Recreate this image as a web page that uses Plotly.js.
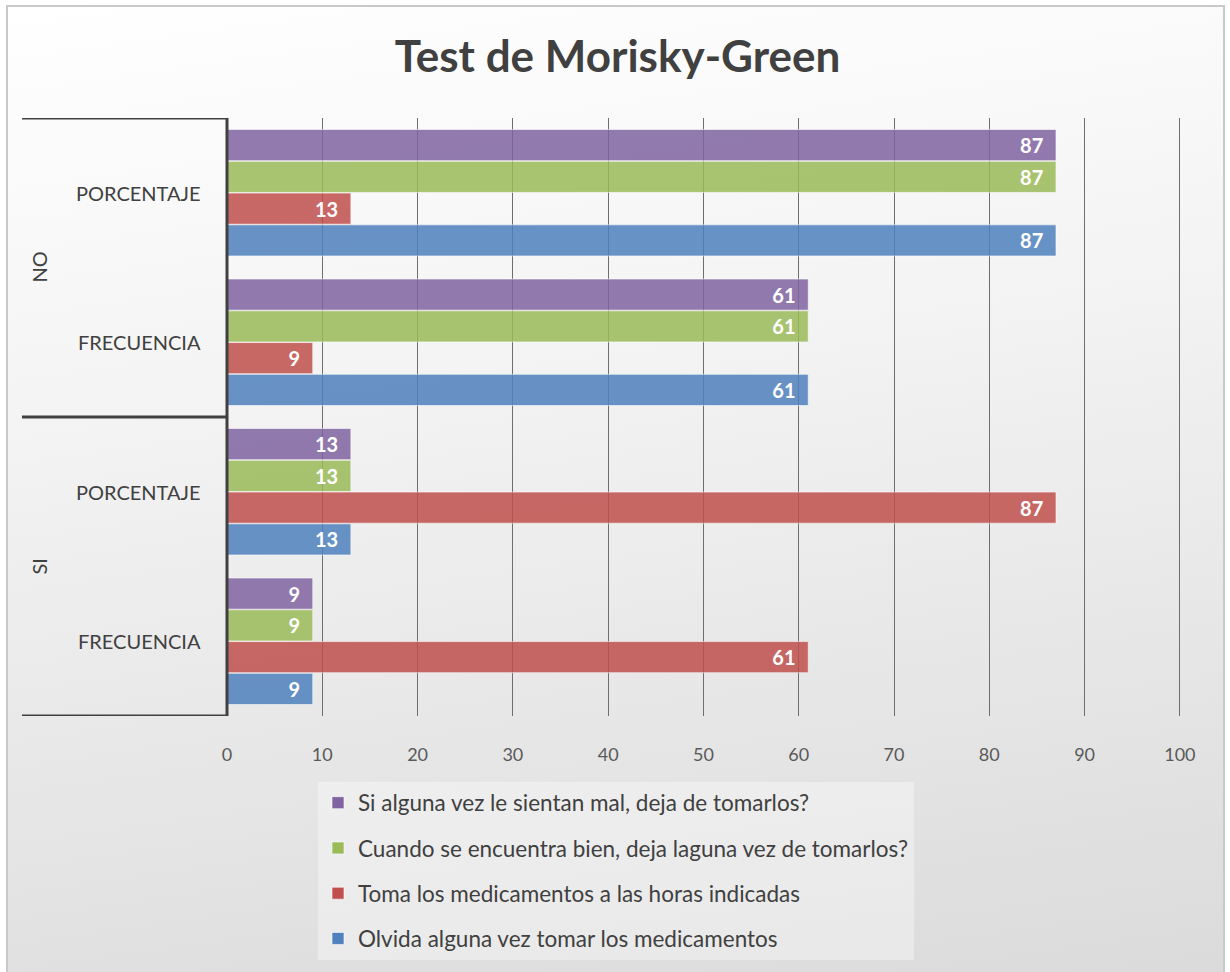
<!DOCTYPE html>
<html>
<head>
<meta charset="utf-8">
<script src="https://cdn.plot.ly/plotly-3.0.1.min.js"></script>
<style>
  html, body { margin: 0; padding: 0; width: 1230px; height: 972px; overflow: hidden; background: #ffffff; }
  #frame { position: absolute; left: 6px; top: 5px; width: 1219px; height: 990px;
           border: 2px solid #c9c9c9; box-sizing: border-box;
           background: linear-gradient(172deg, #ffffff 0%, #f4f4f4 35%, #e4e4e4 75%, #dadada 100%); }
  #chart { position: absolute; left: 0; top: 0; width: 1230px; height: 972px; }
</style>
</head>
<body>
<div id="frame"></div>
<div id="chart"></div>
<script>
// ---- data ----
const grupos = ['SI', 'SI', 'NO', 'NO'];
const subcategorias = ['FRECUENCIA', 'PORCENTAJE', 'FRECUENCIA', 'PORCENTAJE'];
const series = [
  'Olvida alguna vez tomar los medicamentos',
  'Toma los medicamentos a las horas indicadas',
  'Cuando se encuentra bien, deja laguna vez de tomarlos?',
  'Si alguna vez le sientan mal, deja de tomarlos?'
];
const olvida   = [9, 13, 61, 87];
const toma     = [61, 87, 9, 13];
const cuando   = [9, 13, 61, 87];
const sientan  = [9, 13, 61, 87];
const xTicks = [0, 10, 20, 30, 40, 50, 60, 70, 80, 90, 100];

const valores = [olvida, toma, cuando, sientan];
const colores = ['#4F81BD', '#C0504D', '#9BBB59', '#8064A2'];
const categorias = grupos.map((g, i) => g + ' ' + subcategorias[i]);
const FONT = 'Lato, "Open Sans", sans-serif';

const traces = series.map((name, k) => ({
  type: 'bar',
  orientation: 'h',
  name: name,
  legendgroup: 'g' + k,
  legendrank: 100 - k,
  y: categorias,
  x: valores[k],
  text: valores[k].map(v => String(v) + '\u00a0\u00a0'),
  textposition: 'inside',
  insidetextanchor: 'end',
  textfont: { family: FONT, size: 20, color: '#ffffff', weight: 'bold' },
  marker: { color: colores[k], opacity: 0.85, line: { color: 'rgba(255,255,255,0.6)', width: 1 } },
  hoverinfo: 'x+name'
}));

// plot geometry in px
const L = 227, R = 49, T = 118, B = 252, W = 1230, H = 972;
const pw = W - L - R;
const px = v => (v - L) / pw;

const annotations = [];
subcategorias.forEach((s, i) => {
  annotations.push({
    xref: 'paper', yref: 'y', x: px(203), y: i, xanchor: 'right', yanchor: 'middle',
    text: s, showarrow: false,
    font: { family: FONT, size: 20, color: '#404040' }
  });
});
// outer group labels (rotated)
const uniq = [...new Set(grupos)];
uniq.forEach(g => {
  const idx = grupos.map((x, i) => x === g ? i : -1).filter(i => i >= 0);
  const mid = (idx[0] + idx[idx.length - 1]) / 2;
  annotations.push({
    xref: 'paper', yref: 'y', x: px(38), y: mid, xanchor: 'center', yanchor: 'middle',
    text: g, showarrow: false, textangle: -90,
    font: { family: FONT, size: 20, color: '#404040' }
  });
});

const shapes = [];
[-0.5, 1.5, 3.5].forEach(yv => {
  shapes.push({ type: 'line', xref: 'paper', yref: 'y', x0: px(22), x1: 0, y0: yv, y1: yv,
                line: { color: '#404040', width: 3 } });
});
shapes.push({ type: 'line', xref: 'paper', yref: 'y', x0: 0, x1: 0, y0: -0.5, y1: 3.5,
              line: { color: '#404040', width: 3 } });

const layout = {
  width: W, height: H,
  margin: { l: L, r: R, t: T, b: B, pad: 0 },
  paper_bgcolor: 'rgba(0,0,0,0)',
  plot_bgcolor: 'rgba(0,0,0,0)',
  title: { text: 'Test de Morisky-Green', x: 0.502, xanchor: 'center', y: 0.942, yanchor: 'middle',
           font: { family: FONT, size: 44, color: '#404040', weight: 'bold' } },
  barmode: 'group',
  bargap: 0.15,
  bargroupgap: 0.02,
  xaxis: {
    range: [0, 100.12], tickvals: xTicks, ticktext: xTicks.map(String),
    showgrid: true, gridcolor: '#6e6e6e', gridwidth: 1, zeroline: false,
    showline: false, ticks: 'outside', ticklen: 22, tickcolor: 'rgba(0,0,0,0)',
    tickfont: { family: FONT, size: 18, color: '#595959' },
    fixedrange: true
  },
  yaxis: {
    type: 'category', categoryarray: categorias, categoryorder: 'array',
    range: [-0.5, 3.5], showticklabels: false, showgrid: false, zeroline: false, showline: false,
    ticks: '', fixedrange: true
  },
  legend: {
    x: px(318), y: -66 / (H - T - B), xanchor: 'left', yanchor: 'top',
    traceorder: 'grouped', tracegroupgap: 13,
    bgcolor: 'rgba(255,255,255,0.35)',
    font: { family: FONT, size: 22.5, color: '#404040' },
    itemwidth: 30
  },
  annotations: annotations,
  shapes: shapes,
  showlegend: true
};

Plotly.newPlot('chart', traces, layout, { displayModeBar: false, staticPlot: true });
</script>
</body>
</html>
